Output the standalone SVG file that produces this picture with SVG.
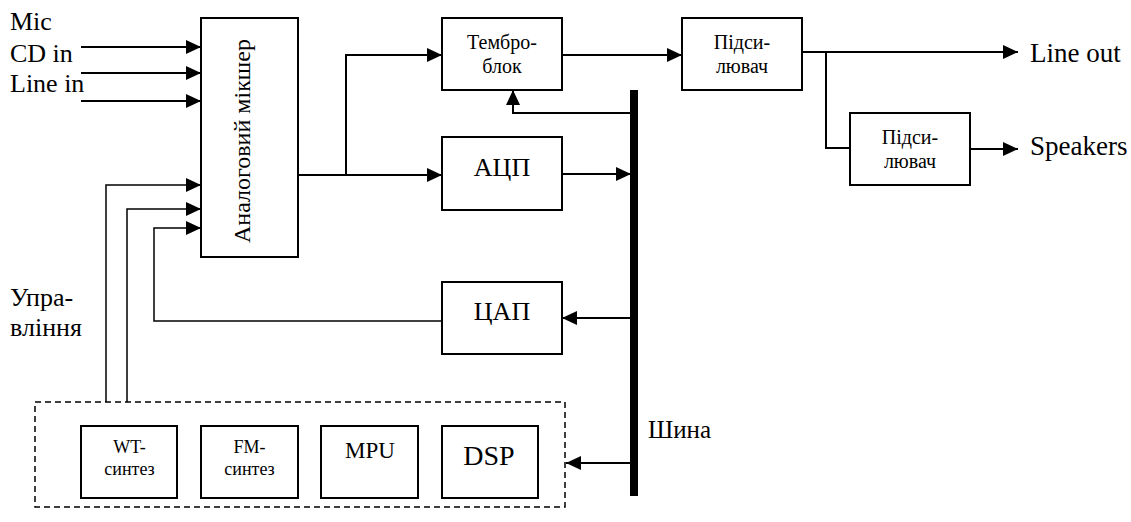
<svg xmlns="http://www.w3.org/2000/svg" width="1131" height="522" viewBox="0 0 1131 522">
<style>
.box{fill:#fff;stroke:#000;stroke-width:2}
.ln{fill:none;stroke:#000;stroke-width:2}
.thin{fill:none;stroke:#000;stroke-width:1.5}
text{font-family:"Liberation Serif","Times New Roman",serif;fill:#000}
.lbl{font-size:26px}
.bt{font-size:20px;text-anchor:middle}
.big{font-size:26px;text-anchor:middle}
.sm{font-size:18px;text-anchor:middle}
</style>
<defs>
<marker id="ah" markerUnits="userSpaceOnUse" markerWidth="15" markerHeight="14" refX="15" refY="7" orient="auto">
<path d="M0,0 L15,7 L0,14 z" fill="#000"/>
</marker>
</defs>
<g id="connectors">
<line class="ln" x1="81" y1="47" x2="201" y2="47" marker-end="url(#ah)"/>
<line class="ln" x1="81" y1="73" x2="201" y2="73" marker-end="url(#ah)"/>
<line class="ln" x1="81" y1="101" x2="201" y2="101" marker-end="url(#ah)"/>
<polyline class="thin" points="106,402 106,185 201,185" marker-end="url(#ah)"/>
<polyline class="thin" points="127,402 127,209 201,209" marker-end="url(#ah)"/>
<polyline class="thin" points="442,321 154,321 154,228 201,228" marker-end="url(#ah)"/>
<line class="ln" x1="298" y1="175" x2="442" y2="175" marker-end="url(#ah)"/>
<polyline class="ln" points="346,175 346,55 442,55" marker-end="url(#ah)"/>
<line class="ln" x1="562" y1="55" x2="682" y2="55" marker-end="url(#ah)"/>
<line class="ln" x1="803" y1="52" x2="1018" y2="52" marker-end="url(#ah)"/>
<polyline class="ln" points="826,52 826,148 850,148"/>
<line class="ln" x1="970" y1="149" x2="1018" y2="149" marker-end="url(#ah)"/>
<line class="ln" x1="562" y1="174" x2="631" y2="174" marker-end="url(#ah)"/>
<polyline class="ln" points="632,113 513,113 513,90" marker-end="url(#ah)"/>
<line class="ln" x1="632" y1="318" x2="562" y2="318" marker-end="url(#ah)"/>
<line class="ln" x1="632" y1="463" x2="566" y2="463" marker-end="url(#ah)"/>
<line x1="634" y1="90" x2="634" y2="496" stroke="#000" stroke-width="8"/>
</g>
<g id="mixer">
<rect class="box" x="201" y="18" width="97" height="239"/>
<text font-size="24" text-anchor="middle" transform="translate(250,141) rotate(-90)">Аналоговий мікшер</text>
</g>
<g id="tembro">
<rect class="box" x="442" y="18" width="120" height="72"/>
<text class="bt" x="502" y="49">Тембро-</text>
<text class="bt" x="502" y="73">блок</text>
</g>
<g id="amp1">
<rect class="box" x="682" y="18" width="120" height="72"/>
<text class="bt" x="742" y="49">Підси-</text>
<text class="bt" x="742" y="73">лювач</text>
</g>
<g id="amp2">
<rect class="box" x="850" y="113" width="120" height="72"/>
<text class="bt" x="910" y="144">Підси-</text>
<text class="bt" x="910" y="168">лювач</text>
</g>
<g id="adc">
<rect class="box" x="442" y="137" width="120" height="73"/>
<text class="big" x="502" y="176">АЦП</text>
</g>
<g id="dac">
<rect class="box" x="442" y="282" width="120" height="72"/>
<text class="big" x="502" y="320">ЦАП</text>
</g>
<g id="synth">
<rect x="35" y="402" width="530" height="105" fill="none" stroke="#000" stroke-width="1.5" stroke-dasharray="6,4"/>
<rect class="box" x="81" y="426" width="96" height="72"/>
<text class="sm" x="129.5" y="453">WT-</text>
<text class="sm" x="129.5" y="475">синтез</text>
<rect class="box" x="201" y="426" width="97" height="72"/>
<text class="sm" x="249.5" y="453">FM-</text>
<text class="sm" x="249.5" y="475">синтез</text>
<rect class="box" x="321" y="426" width="97" height="72"/>
<text x="370" y="458" font-size="23" text-anchor="middle">MPU</text>
<rect class="box" x="442" y="426" width="96" height="72"/>
<text x="489" y="465" font-size="28" text-anchor="middle">DSP</text>
</g>
<g id="labels">
<text class="lbl" x="10" y="30">Mic</text>
<text class="lbl" x="10" y="62">CD in</text>
<text class="lbl" x="10" y="92">Line in</text>
<text class="lbl" x="10" y="306">Упра-</text>
<text class="lbl" x="10" y="336">вління</text>
<text font-size="25" x="648" y="438">Шина</text>
<text font-size="27" x="1030" y="62">Line out</text>
<text font-size="27" x="1030" y="155">Speakers</text>
</g>
</svg>
